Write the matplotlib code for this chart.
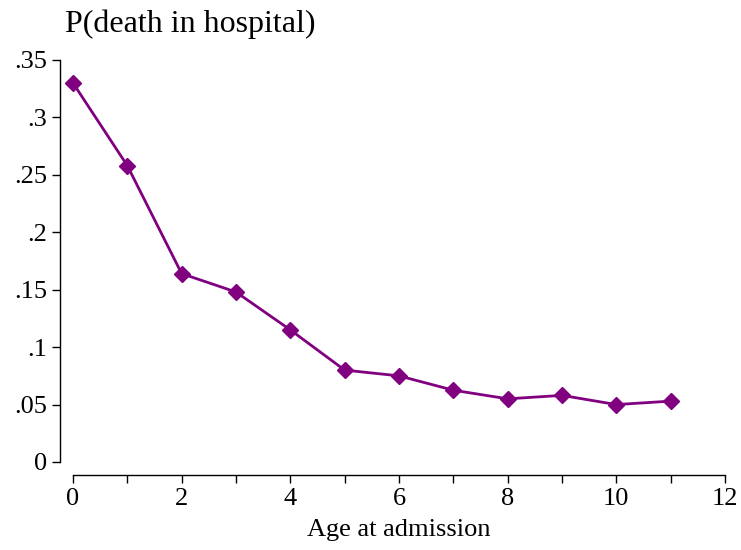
import matplotlib
matplotlib.use("Agg")
import matplotlib.pyplot as plt

# Age at admission vs probability of death in hospital
ages = [0, 1, 2, 3, 4, 5, 6, 7, 8, 9, 10, 11]
p_death = [0.330, 0.258, 0.164, 0.148, 0.115, 0.080, 0.075, 0.0625, 0.055, 0.058, 0.050, 0.053]

y_ticks = [0, 0.05, 0.1, 0.15, 0.2, 0.25, 0.3, 0.35]
y_labels = ["0", ".05", ".1", ".15", ".2", ".25", ".3", ".35"]
x_ticks = [0, 2, 4, 6, 8, 10, 12]

plt.rcParams['font.family'] = ['Liberation Serif', 'DejaVu Serif']

fig = plt.figure(figsize=(7.41, 5.5), dpi=100)
ax = fig.add_axes([73 / 741, 1 - 462 / 550, (725 - 73) / 741, (462 - 60) / 550])

purple = '#800080'
ax.plot(ages, p_death, color=purple, linewidth=2.0, marker='D', markersize=8,
        markeredgecolor=purple, markerfacecolor=purple, clip_on=False)

ax.set_xlim(0, 12)
ax.set_ylim(0, 0.35)
ax.set_xticks(x_ticks)
ax.set_xticks(range(0, 13), minor=True)
ax.set_yticks(y_ticks)
ax.set_yticklabels(y_labels)

for s in ['top', 'right']:
    ax.spines[s].set_visible(False)
ax.spines['left'].set_position(('outward', 9.5))
ax.spines['bottom'].set_position(('outward', 9.5))
for s in ['left', 'bottom']:
    ax.spines[s].set_linewidth(1.0)

ax.tick_params(axis='both', which='major', length=6, width=1.0, labelsize=19, pad=3)
ax.tick_params(axis='x', which='minor', length=6, width=1.0)

ax.set_xlabel("Age at admission", fontsize=19, labelpad=7)
fig.text(65 / 741, 1 - 24 / 550, "P(death in hospital)", fontsize=23, va='center', ha='left')

fig.savefig("out.png", dpi=100)
